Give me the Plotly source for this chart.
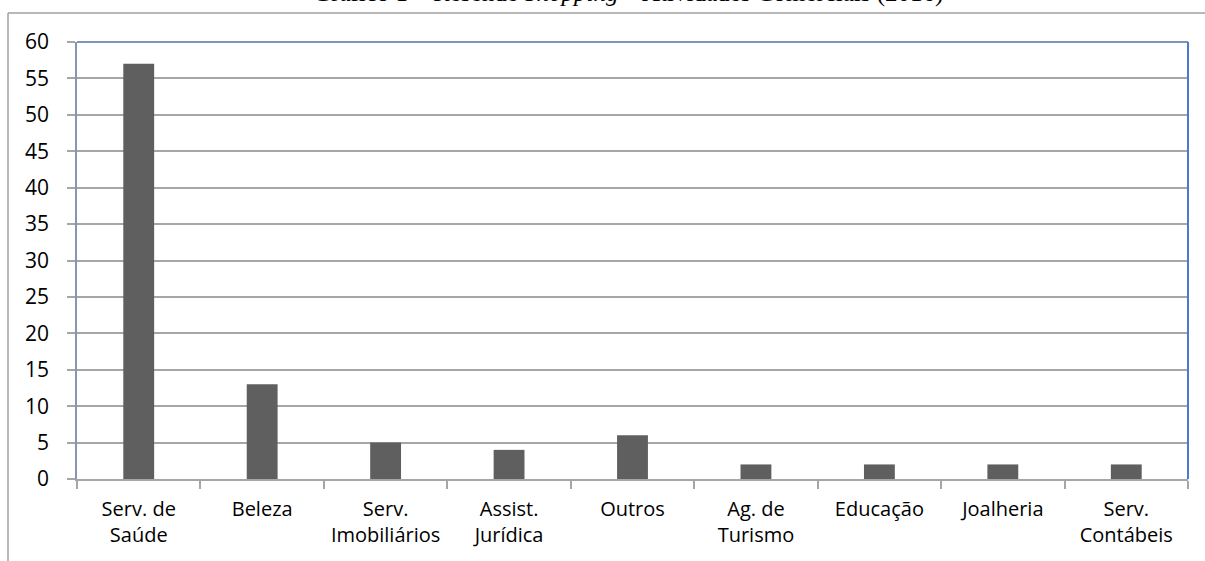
import plotly.graph_objects as go

# Atividades comerciais e número de estabelecimentos
categorias = [
    "Serv. de<br>Saúde", "Beleza", "Serv.<br>Imobiliários", "Assist.<br>Jurídica",
    "Outros", "Ag. de<br>Turismo", "Educação", "Joalheria", "Serv.<br>Contábeis",
]
quantidades = [57, 13, 5, 4, 6, 2, 2, 2, 2]
y_ticks = list(range(0, 61, 5))

titulo = "Gráfico 1 – Resende <i>Shopping</i> – Atividades Comerciais (2016)"

W, H = 1205, 561
L, R, T, B = 77, 17, 42, 82

fig = go.Figure(
    go.Bar(
        x=categorias,
        y=quantidades,
        marker=dict(color="#5f5f5f", line=dict(width=0)),
        width=0.25,
    )
)

font_eixo = "Open Sans, Calibri, Carlito, sans-serif"

fig.update_layout(
    width=W,
    height=H,
    margin=dict(l=L, r=R, t=T, b=B, pad=0),
    paper_bgcolor="white",
    plot_bgcolor="white",
    showlegend=False,
    bargap=0.75,
    xaxis=dict(
        type="category",
        tickson="boundaries",
        ticks="outside",
        ticklen=8,
        tickwidth=1.5,
        tickcolor="#a6a6a6",
        showline=True,
        linecolor="#a6a6a6",
        linewidth=1.5,
        showgrid=False,
        tickfont=dict(family=font_eixo, size=20, color="black"),
        ticklabelstandoff=11,
    ),
    yaxis=dict(
        range=[0, 60],
        tickvals=y_ticks,
        ticks="outside",
        ticklen=8,
        tickwidth=1.5,
        tickcolor="#a6a6a6",
        showline=True,
        linecolor="#8496b0",
        linewidth=1.5,
        showgrid=True,
        gridcolor="#a6a6a6",
        gridwidth=1.5,
        zeroline=False,
        tickfont=dict(family=font_eixo, size=21, color="black"),
        ticklabelstandoff=14,
    ),
    shapes=[
        # moldura externa da área do gráfico
        dict(type="line", xref="paper", yref="paper",
             x0=-(L - 8) / (W - L - R), x1=(W - L) / (W - L - R),
             y0=(H - B - 13) / (H - T - B), y1=(H - B - 13) / (H - T - B),
             line=dict(color="#a0a0a0", width=1.5)),
        dict(type="line", xref="paper", yref="paper",
             x0=-(L - 8) / (W - L - R), x1=-(L - 8) / (W - L - R),
             y0=(H - B - 13) / (H - T - B), y1=-(B + 5) / (H - T - B),
             line=dict(color="#a0a0a0", width=1.5)),
        # bordas superior e direita da área de plotagem
        dict(type="line", xref="paper", yref="paper", x0=0, x1=1, y0=1, y1=1,
             line=dict(color="#7b95c2", width=2)),
        dict(type="line", xref="paper", yref="paper", x0=1, x1=1, y0=0, y1=1,
             line=dict(color="#4a7ccb", width=2)),
    ],
    annotations=[
        dict(text=titulo, xref="paper", yref="paper",
             x=(628 - L) / (W - L - R), y=(H - B - 9) / (H - T - B),
             xanchor="center", yanchor="bottom", showarrow=False,
             font=dict(family="Liberation Serif, Times New Roman, serif", size=25, color="black")),
    ],
)

fig.write_html("out.html")
